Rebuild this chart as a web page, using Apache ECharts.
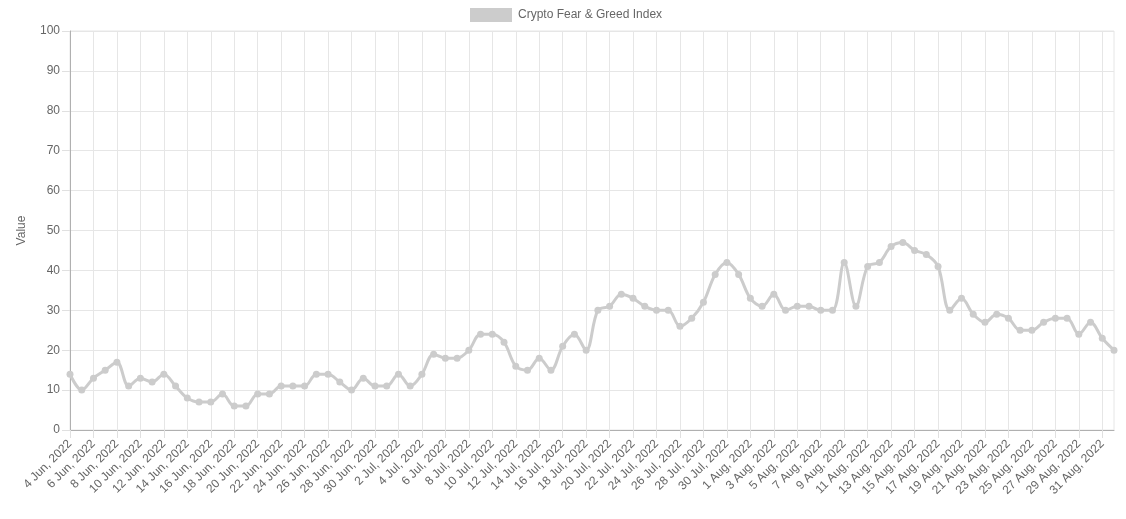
<!DOCTYPE html>
<html>
<head>
<meta charset="utf-8">
<script src="https://cdn.jsdelivr.net/npm/echarts@6/dist/echarts.min.js"></script>
<style>
html,body{margin:0;padding:0;background:#fff;}
#c{width:1126px;height:519px;}
</style>
</head>
<body>
<div id="c"></div>
<script>
const seriesName = 'Crypto Fear & Greed Index';
const categories = [
'4 Jun, 2022','5 Jun, 2022','6 Jun, 2022','7 Jun, 2022','8 Jun, 2022','9 Jun, 2022','10 Jun, 2022','11 Jun, 2022','12 Jun, 2022','13 Jun, 2022',
'14 Jun, 2022','15 Jun, 2022','16 Jun, 2022','17 Jun, 2022','18 Jun, 2022','19 Jun, 2022','20 Jun, 2022','21 Jun, 2022','22 Jun, 2022','23 Jun, 2022',
'24 Jun, 2022','25 Jun, 2022','26 Jun, 2022','27 Jun, 2022','28 Jun, 2022','29 Jun, 2022','30 Jun, 2022',
'1 Jul, 2022','2 Jul, 2022','3 Jul, 2022','4 Jul, 2022','5 Jul, 2022','6 Jul, 2022','7 Jul, 2022','8 Jul, 2022','9 Jul, 2022','10 Jul, 2022',
'11 Jul, 2022','12 Jul, 2022','13 Jul, 2022','14 Jul, 2022','15 Jul, 2022','16 Jul, 2022','17 Jul, 2022','18 Jul, 2022','19 Jul, 2022','20 Jul, 2022',
'21 Jul, 2022','22 Jul, 2022','23 Jul, 2022','24 Jul, 2022','25 Jul, 2022','26 Jul, 2022','27 Jul, 2022','28 Jul, 2022','29 Jul, 2022','30 Jul, 2022','31 Jul, 2022',
'1 Aug, 2022','2 Aug, 2022','3 Aug, 2022','4 Aug, 2022','5 Aug, 2022','6 Aug, 2022','7 Aug, 2022','8 Aug, 2022','9 Aug, 2022','10 Aug, 2022',
'11 Aug, 2022','12 Aug, 2022','13 Aug, 2022','14 Aug, 2022','15 Aug, 2022','16 Aug, 2022','17 Aug, 2022','18 Aug, 2022','19 Aug, 2022','20 Aug, 2022',
'21 Aug, 2022','22 Aug, 2022','23 Aug, 2022','24 Aug, 2022','25 Aug, 2022','26 Aug, 2022','27 Aug, 2022','28 Aug, 2022','29 Aug, 2022','30 Aug, 2022','31 Aug, 2022',
'1 Sep, 2022'
];
const values = [
14,10,13,15,17,11,13,12,14,11,8,7,7,9,6,6,9,9,11,11,11,14,14,12,10,13,11,
11,14,11,14,19,18,18,20,24,24,22,16,15,18,15,21,24,20,30,31,34,33,31,30,30,26,28,32,39,42,39,
33,31,34,30,31,31,30,30,42,31,41,42,46,47,45,44,41,30,33,29,27,29,28,25,25,27,28,28,24,27,23,
20
];
const yTicks = [0,10,20,30,40,50,60,70,80,90,100];

const font = '"Liberation Sans", Arial, Helvetica, sans-serif';
const chart = echarts.init(document.getElementById('c'), null, {renderer:'canvas'});
chart.setOption({
  animation:false,
  textStyle:{fontFamily:font},
  legend:{
    top:3, left:465, icon:'rect', itemWidth:42, itemHeight:14, itemGap:10,
    textStyle:{color:'#666', fontSize:12, fontFamily:font, padding:[0,0,0,1]},
    itemStyle:{color:'#cccccc', borderWidth:0},
    data:[seriesName]
  },
  grid:{left:70, right:12, top:31, bottom:89, show:true, borderColor:'#e6e6e6', borderWidth:1},
  xAxis:{
    type:'category', data:categories, boundaryGap:false,
    axisLine:{lineStyle:{color:'#b0b0b0', width:1}},
    axisTick:{show:true, interval:1, length:8, lineStyle:{color:'#e0e0e0'}},
    axisLabel:{interval:1, rotate:45, color:'#666', fontSize:12, fontFamily:font, margin:12},
    splitLine:{show:true, interval:1, lineStyle:{color:'#e6e6e6', width:1}}
  },
  yAxis:{
    type:'value', min:yTicks[0], max:yTicks[yTicks.length-1], interval:10,
    name:'Value', nameLocation:'middle', nameGap:42,
    nameTextStyle:{color:'#666', fontSize:12, fontFamily:font},
    axisLine:{show:true, lineStyle:{color:'#b0b0b0', width:1}},
    axisTick:{show:true, length:8, lineStyle:{color:'#e0e0e0'}},
    axisLabel:{color:'#666', fontSize:12, fontFamily:font, margin:10},
    splitLine:{show:true, lineStyle:{color:'#e6e6e6', width:1}}
  },
  series:[{
    name:seriesName, type:'line', data:values, smooth:0.35,
    symbol:'circle', symbolSize:7, showAllSymbol:true,
    lineStyle:{color:'#cccccc', width:3},
    itemStyle:{color:'#cccccc'}
  }]
});
</script>
</body>
</html>
